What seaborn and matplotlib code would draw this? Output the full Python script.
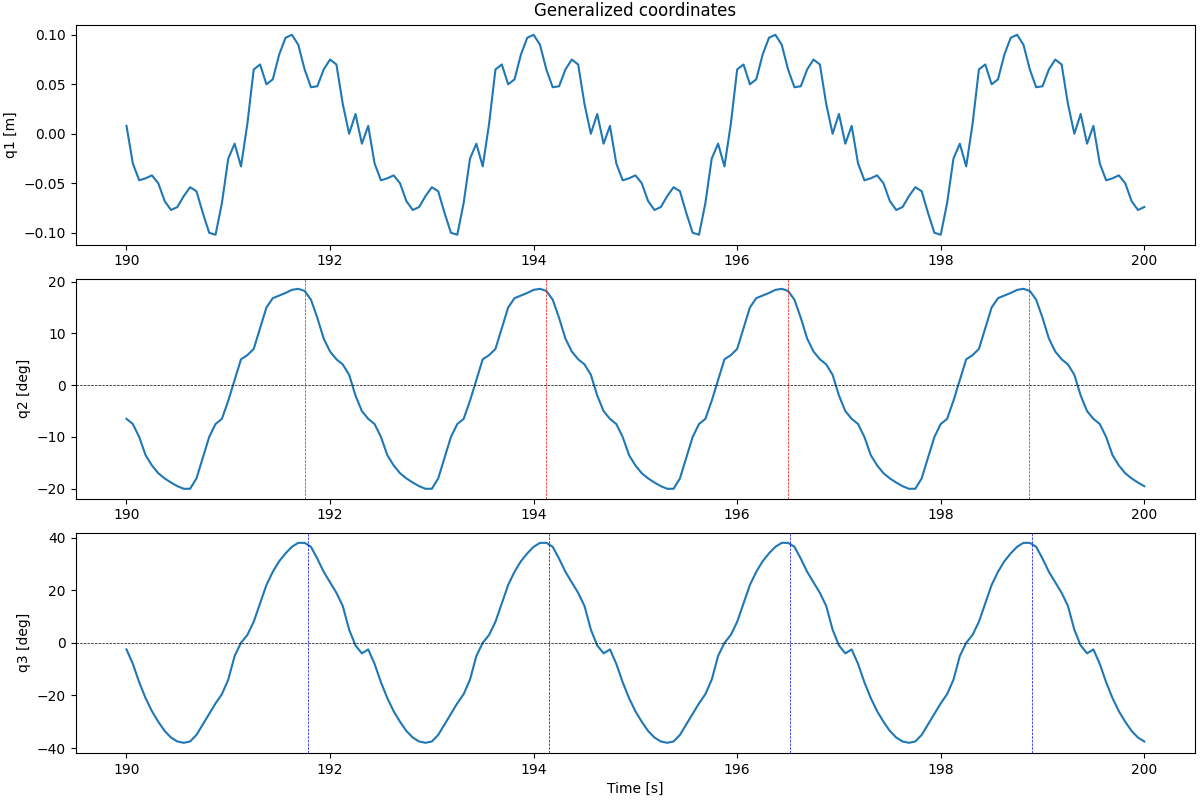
import numpy as np
import pandas as pd
import seaborn as sns
import matplotlib
matplotlib.use("Agg")
import matplotlib.pyplot as plt

# one cycle of each coordinate (period 2.375 s, sampled every 0.0625 s)
T0 = 190.0
DT = 0.0625
N_SAMPLES = 161

q1_cycle = [0.008, -0.03, -0.047, -0.045, -0.042, -0.05, -0.068, -0.077, -0.074, -0.063,
            -0.054, -0.058, -0.08, -0.1, -0.102, -0.07, -0.025, -0.01, -0.033, 0.01,
            0.065, 0.07, 0.05, 0.055, 0.08, 0.097, 0.1, 0.09, 0.065, 0.047,
            0.048, 0.065, 0.075, 0.07, 0.03, 0.0, 0.02, -0.01]
q2_cycle = [-6.5, -7.5, -10, -13.5, -15.5, -17, -18, -18.8, -19.5, -20,
            -20, -18, -14, -10, -7.5, -6.5, -3, 1, 5, 5.8,
            7, 11, 15, 16.8, 17.3, 17.8, 18.4, 18.6, 18.2, 16.5,
            13, 9, 6.5, 5, 4, 2, -2, -5]
q3_cycle = [-2.5, -8, -15, -21, -26, -30, -33.5, -36, -37.5, -38,
            -37.5, -35, -31, -27, -23, -19.5, -14, -5, 0, 3,
            8, 15, 22, 27, 31, 34, 36.5, 38, 38, 36.5,
            32, 27, 23, 19, 14, 5, -1, -4]

q2_peaks = [191.75, 194.12, 196.5, 198.87]
q3_peaks = [191.78, 194.15, 196.52, 198.9]

time = T0 + DT * np.arange(N_SAMPLES)
df = pd.DataFrame({
    "t": time,
    "q1": np.tile(q1_cycle, 5)[:N_SAMPLES],
    "q2": np.tile(q2_cycle, 5)[:N_SAMPLES],
    "q3": np.tile(q3_cycle, 5)[:N_SAMPLES],
})

fig, axes = plt.subplots(3, 1, figsize=(12, 8))

sns.lineplot(data=df, x="t", y="q1", ax=axes[0], color="#1f77b4", linewidth=1.5)
axes[0].set_title("Generalized coordinates")
axes[0].set_ylabel("q1 [m]")

sns.lineplot(data=df, x="t", y="q2", ax=axes[1], color="#1f77b4", linewidth=1.5)
axes[1].axhline(0, color="black", linestyle="--", linewidth=0.5)
for p in q2_peaks:
    axes[1].axvline(p, color="red", linestyle="--", linewidth=0.5)
axes[1].set_ylabel("q2 [deg]")

sns.lineplot(data=df, x="t", y="q3", ax=axes[2], color="#1f77b4", linewidth=1.5)
axes[2].axhline(0, color="black", linestyle="--", linewidth=0.5)
for p in q3_peaks:
    axes[2].axvline(p, color="blue", linestyle="--", linewidth=0.5)
axes[2].set_ylabel("q3 [deg]")

for ax in axes:
    ax.set_xlabel("")
axes[2].set_xlabel("Time [s]")

fig.subplots_adjust(left=0.063, right=0.996, top=0.969, bottom=0.059, hspace=0.155)
fig.savefig("out.png", dpi=100)
